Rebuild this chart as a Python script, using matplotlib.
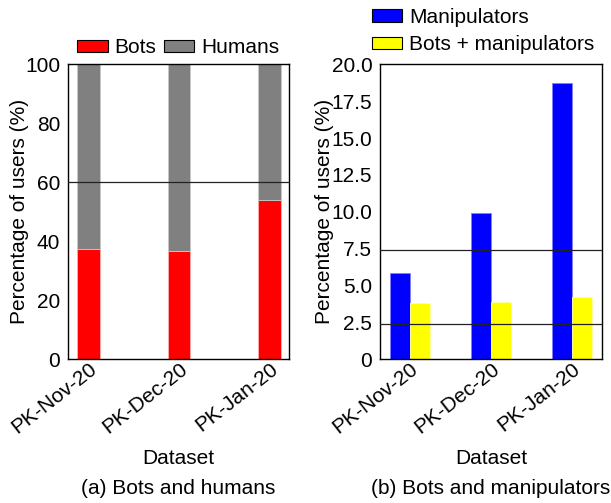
import matplotlib
matplotlib.use("Agg")
import matplotlib.pyplot as plt
import numpy as np

plt.rcParams['font.family'] = ['Liberation Sans', 'DejaVu Sans']

datasets = ["PK-Nov-20", "PK-Dec-20", "PK-Jan-20"]
bots = [37.4, 36.7, 54.0]
humans = [100 - b for b in bots]
manipulators = [5.82, 9.95, 18.73]
bots_manip = [3.84, 3.91, 4.2]
left_hline = 60
right_hlines = [7.44, 2.42]

FS = 15
fig = plt.figure(figsize=(6.11, 5.03), dpi=100)
W, H = 611, 503
axL = fig.add_axes([67.7 / W, 1 - 359.3 / H, (289 - 67.7) / W, (359.3 - 64.3) / H])
axR = fig.add_axes([380 / W, 1 - 359.3 / H, (602 - 380) / W, (359.3 - 64.3) / H])

x = np.arange(len(datasets))
bw = 0.25
axL.bar(x, bots, bw, color='#ff0000', edgecolor='#ffb0b0', linewidth=0.6, label='Bots', zorder=2)
axL.bar(x, humans, bw, bottom=bots, color='#808080', edgecolor='#c8c8c8', linewidth=0.6, label='Humans', zorder=2)
axL.axhline(left_hline, color='#222222', lw=0.9, zorder=3)
axL.set_xlim(-0.232, 2.215)
axL.set_ylim(0, 100)
axL.set_yticks([0, 20, 40, 60, 80, 100])

axR.bar(x - bw / 2, manipulators, bw, color='#0000ff', edgecolor='#8080ff', linewidth=0.6, label='Manipulators', zorder=2)
axR.bar(x + bw / 2, bots_manip, bw, color='#ffff00', edgecolor='#ffffa0', linewidth=0.6, label='Bots + manipulators', zorder=2)
for v in right_hlines:
    axR.axhline(v, color='#222222', lw=0.9, zorder=3)
axR.set_xlim(-0.37, 2.37)
axR.set_ylim(0, 20)
axR.set_yticks([0, 2.5, 5, 7.5, 10, 12.5, 15, 17.5, 20])
axR.set_yticklabels(['0', '2.5', '5.0', '7.5', '10.0', '12.5', '15.0', '17.5', '20.0'])

for ax, ylx in ((axL, -0.22), (axR, -0.25)):
    ax.set_xticks(x)
    ax.set_xticklabels(datasets, rotation=38, ha='right', rotation_mode='anchor', fontsize=FS)
    ax.tick_params(axis='x', direction='in', length=4, width=1, pad=0)
    ax.tick_params(axis='y', direction='in', length=0, labelsize=FS, pad=5.5)
    ax.set_ylabel('Percentage of users (%)', fontsize=FS, va='center')
    ax.yaxis.set_label_coords(ylx, 0.5)
    ax.set_xlabel('Dataset', fontsize=FS, va='center')
    ax.xaxis.set_label_coords(0.5, -0.335)
    for s in ax.spines.values():
        s.set_linewidth(1.0)

fig.text((67.7 + 289) / 2 / W, 1 - 488 / H, '(a) Bots and humans', ha='center', va='center', fontsize=FS)
fig.text((380 + 602) / 2 / W, 1 - 488 / H, '(b) Bots and manipulators', ha='center', va='center', fontsize=FS)

legL = axL.legend(loc='lower center', bbox_to_anchor=(0.5, 1.02), ncol=2, frameon=False,
                  fontsize=FS, handlelength=1.45, handleheight=0.55, handletextpad=0.34,
                  columnspacing=0.36, borderaxespad=0, borderpad=0.05)
for p in legL.get_patches():
    p.set_edgecolor('black'); p.set_linewidth(0.8)

legR = axR.legend(loc='lower left', bbox_to_anchor=(-0.04, 1.03), ncol=1, frameon=False,
                  fontsize=FS, handlelength=1.45, handleheight=0.55, handletextpad=0.34,
                  labelspacing=0.4, borderaxespad=0, borderpad=0.05)
for p in legR.get_patches():
    p.set_edgecolor('black'); p.set_linewidth(0.8)

fig.savefig('out.png', dpi=100)
